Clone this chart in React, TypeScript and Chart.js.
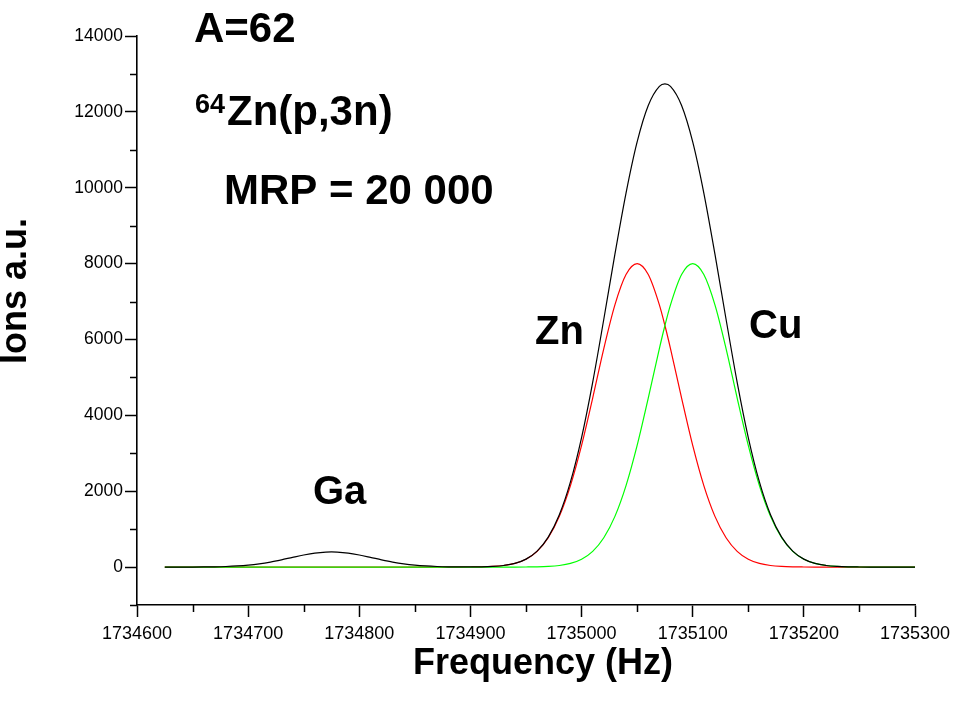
import React, { useEffect, useRef } from "react";
import { Chart, registerables } from "chart.js";

Chart.register(...registerables);

// Frequency grid (Hz)
const freq = [
  1734625, 1734630, 1734640, 1734650, 1734660, 1734670, 1734680, 1734690,
  1734700, 1734710, 1734720, 1734730, 1734740, 1734750, 1734760, 1734770, 1734775, 1734780, 1734790,
  1734800, 1734810, 1734820, 1734830, 1734840, 1734850, 1734860, 1734870, 1734880, 1734890,
  1734900, 1734910, 1734920, 1734930, 1734940, 1734950, 1734960, 1734970, 1734980, 1734990,
  1735000, 1735010, 1735020, 1735030, 1735040, 1735050, 1735060, 1735070, 1735075, 1735080, 1735090,
  1735100, 1735110, 1735120, 1735130, 1735140, 1735150, 1735160, 1735170, 1735180, 1735190,
  1735200, 1735210, 1735220, 1735230, 1735240, 1735250, 1735260, 1735270, 1735280, 1735290,
  1735300,
];

// Zn component (red)
const znCurve = [
  0, 0, 0, 0, 0, 0, 0, 0,
  0, 0, 0, 0, 0, 0, 0, 0, 0, 0, 0,
  0, 0, 0, 0, 0, 0, 0, 0, 0, 0,
  2, 6, 17, 42, 96, 207, 415, 773, 1336, 2148,
  3208, 4456, 5760, 6912, 7712, 8000, 7712, 6912, 6368, 5760, 4456,
  3208, 2148, 1336, 773, 415, 207, 96, 42, 17, 6,
  2, 0, 0, 0, 0, 0, 0, 0, 0, 0,
  0,
];

// Cu component (green)
const cuCurve = [
  0, 0, 0, 0, 0, 0, 0, 0,
  0, 0, 0, 0, 0, 0, 0, 0, 0, 0, 0,
  0, 0, 0, 0, 0, 0, 0, 0, 0, 0,
  0, 0, 0, 0, 0, 2, 6, 17, 42, 96,
  207, 415, 773, 1336, 2148, 3208, 4456, 5760, 6368, 6912, 7712,
  8000, 7712, 6912, 5760, 4456, 3208, 2148, 1336, 773, 415,
  207, 96, 42, 17, 6, 2, 0, 0, 0, 0,
  0,
];

// Total spectrum (black), including the Ga peak
const totalCurve = [
  0, 0, 0, 1, 3, 7, 15, 29,
  51, 85, 132, 191, 256, 318, 368, 396, 400, 396, 368,
  318, 256, 191, 132, 85, 51, 29, 15, 7, 3,
  3, 6, 17, 42, 96, 209, 421, 790, 1378, 2244,
  3415, 4871, 6533, 8248, 9860, 11208, 12168, 12672, 12736, 12672, 12168,
  11208, 9860, 8248, 6533, 4871, 3415, 2244, 1378, 790, 421,
  209, 96, 42, 17, 6, 2, 0, 0, 0, 0,
  0,
];

const xTickValues = [1734600, 1734700, 1734800, 1734900, 1735000, 1735100, 1735200, 1735300];
const xMinorValues = [1734650, 1734750, 1734850, 1734950, 1735050, 1735150, 1735250];
const yTickValues = [0, 2000, 4000, 6000, 8000, 10000, 12000, 14000];
const yMinorValues = [-1000, 1000, 3000, 5000, 7000, 9000, 11000, 13000];

const FONT = "'Liberation Sans', Arial, Helvetica, sans-serif";

const toPoints = (ys: number[]) => freq.map((f, i) => ({ x: f, y: ys[i] }));

const overlayPlugin = {
  id: "overlay",
  afterDraw(chart: any) {
    const ctx: CanvasRenderingContext2D = chart.ctx;
    const xs = chart.scales.x;
    const ys = chart.scales.y;
    const area = chart.chartArea;
    ctx.save();

    // minor ticks
    ctx.strokeStyle = "#000";
    ctx.lineWidth = 1.5;
    ctx.beginPath();
    xMinorValues.forEach((v) => {
      const px = Math.round(xs.getPixelForValue(v)) + 0.5;
      ctx.moveTo(px, area.bottom);
      ctx.lineTo(px, area.bottom + 7);
    });
    yMinorValues.forEach((v) => {
      const py = Math.round(ys.getPixelForValue(v)) + 0.5;
      ctx.moveTo(area.left - 7, py);
      ctx.lineTo(area.left, py);
    });
    ctx.stroke();

    // annotations
    ctx.fillStyle = "#000";
    ctx.textAlign = "left";
    ctx.textBaseline = "alphabetic";
    ctx.font = `bold 42px ${FONT}`;
    ctx.fillText("A=62", 194, 42);
    ctx.font = `bold 27px ${FONT}`;
    ctx.fillText("64", 195, 113);
    ctx.font = `bold 42px ${FONT}`;
    ctx.fillText("Zn(p,3n)", 227, 125);
    ctx.fillText("MRP = 20 000", 224, 204);

    ctx.font = `bold 40px ${FONT}`;
    ctx.fillText("Zn", 535, 344);
    ctx.fillText("Cu", 749, 338);
    ctx.fillText("Ga", 313, 504);

    // axis titles
    ctx.font = `bold 36px ${FONT}`;
    ctx.textAlign = "center";
    ctx.fillText("Frequency (Hz)", 543, 674);
    ctx.translate(26, 291);
    ctx.rotate(-Math.PI / 2);
    ctx.fillText("Ions a.u.", 0, 0);

    ctx.restore();
  },
};

export default function App() {
  const canvasRef = useRef<HTMLCanvasElement | null>(null);

  useEffect(() => {
    if (!canvasRef.current) return;
    const chart = new Chart(canvasRef.current, {
      type: "line",
      data: {
        datasets: [
          {
            label: "Total",
            data: toPoints(totalCurve),
            borderColor: "#000000",
            borderWidth: 1.2,
            pointRadius: 0,
            cubicInterpolationMode: "monotone",
            fill: false,
          },
          {
            label: "Cu",
            data: toPoints(cuCurve),
            borderColor: "#00ff00",
            borderWidth: 1.2,
            pointRadius: 0,
            cubicInterpolationMode: "monotone",
            fill: false,
          },
          {
            label: "Zn",
            data: toPoints(znCurve),
            borderColor: "#ff0000",
            borderWidth: 1.2,
            pointRadius: 0,
            cubicInterpolationMode: "monotone",
            fill: false,
          },
        ],
      },
      options: {
        responsive: false,
        animation: false,
        events: [],
        layout: { padding: { left: 0, right: 50, top: 36, bottom: 0 } },
        plugins: {
          legend: { display: false },
          tooltip: { enabled: false },
          title: { display: false },
        },
        scales: {
          x: {
            type: "linear",
            min: 1734600,
            max: 1735300,
            afterBuildTicks: (s: any) => {
              s.ticks = xTickValues.map((v) => ({ value: v }));
            },
            afterFit: (s: any) => {
              s.height = 100;
            },
            grid: {
              display: true,
              drawOnChartArea: false,
              drawTicks: true,
              tickLength: 12,
              tickWidth: 1.5,
              tickColor: "#000",
              color: "#000",
            },
            border: { display: true, color: "#000", width: 1.6 },
            ticks: {
              color: "#000",
              font: { family: FONT, size: 18 },
              padding: 6,
              maxRotation: 0,
              autoSkip: false,
              callback: (v: any) => String(v),
            },
          },
          y: {
            type: "linear",
            min: -1000,
            max: 14000,
            afterBuildTicks: (s: any) => {
              s.ticks = yTickValues.map((v) => ({ value: v }));
            },
            afterFit: (s: any) => {
              s.width = 137;
            },
            grid: {
              display: true,
              drawOnChartArea: false,
              drawTicks: true,
              tickLength: 12,
              tickWidth: 1.5,
              tickColor: "#000",
              color: "#000",
            },
            border: { display: true, color: "#000", width: 1.6 },
            ticks: {
              color: "#000",
              font: { family: FONT, size: 17.5 },
              padding: 2,
              autoSkip: false,
              callback: (v: any) => String(v),
            },
          },
        },
      },
      plugins: [overlayPlugin],
    });
    return () => chart.destroy();
  }, []);

  return (
    <div
      style={{
        position: "absolute",
        left: 0,
        top: 0,
        width: 965,
        height: 705,
        background: "#ffffff",
      }}
    >
      <canvas ref={canvasRef} width={965} height={705} style={{ display: "block" }} />
    </div>
  );
}
